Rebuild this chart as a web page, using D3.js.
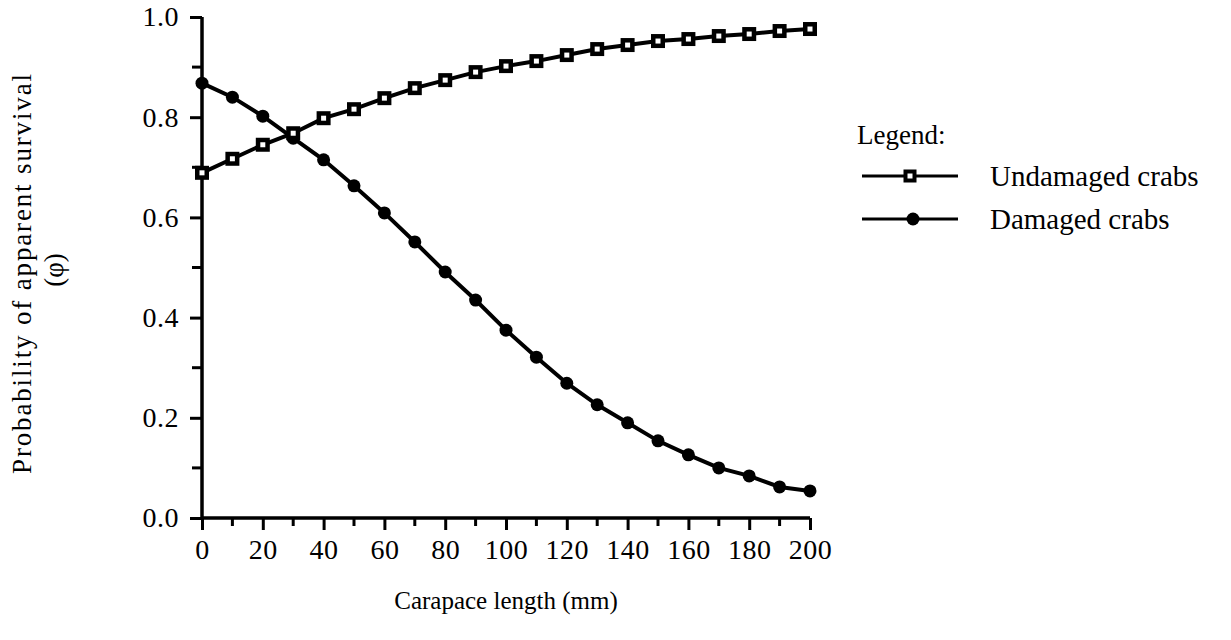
<!DOCTYPE html>
<html>
<head>
<meta charset="utf-8">
<script src="https://cdn.jsdelivr.net/npm/d3@7"></script>
<style>
  html, body { margin: 0; padding: 0; background: #fff; }
  svg { display: block; }
  text { font-family: "Liberation Serif", "DejaVu Serif", serif; fill: #000; }
</style>
</head>
<body>
<div id="chart"></div>
<script>
(function (d3) {
    'use strict';

    // data
    var lengths = [0, 10, 20, 30, 40, 50, 60, 70, 80, 90, 100,
                   110, 120, 130, 140, 150, 160, 170, 180, 190, 200];
    var undamaged = [0.689, 0.717, 0.745, 0.768, 0.798, 0.816, 0.838, 0.858, 0.874, 0.890, 0.902,
                     0.912, 0.924, 0.936, 0.944, 0.952, 0.956, 0.962, 0.966, 0.972, 0.976];
    var damaged = [0.868, 0.840, 0.802, 0.758, 0.715, 0.663, 0.609, 0.551, 0.491, 0.435, 0.375,
                   0.321, 0.269, 0.226, 0.190, 0.154, 0.126, 0.100, 0.084, 0.062, 0.054];
    var xTicks = [0, 20, 40, 60, 80, 100, 120, 140, 160, 180, 200];
    var yTicks = [0, 0.2, 0.4, 0.6, 0.8, 1.0];
    var seriesNames = ['Undamaged crabs', 'Damaged crabs'];

    var W = 1231, H = 640;
    var svg = d3.select('#chart').append('svg')
        .attr('width', W).attr('height', H);

    var x = d3.scaleLinear().domain([0, 200]).range([202, 810]);
    var y = d3.scaleLinear().domain([0, 1]).range([518, 17]);

    // minor ticks
    svg.append('g').selectAll('line')
        .data(d3.range(10, 200, 20))
        .enter().append('line')
        .attr('x1', function (d) { return x(d); })
        .attr('x2', function (d) { return x(d); })
        .attr('y1', 518).attr('y2', 526)
        .attr('stroke', '#000').attr('stroke-width', 3);
    svg.append('g').selectAll('line')
        .data([0.1, 0.3, 0.5, 0.7, 0.9])
        .enter().append('line')
        .attr('y1', function (d) { return y(d); })
        .attr('y2', function (d) { return y(d); })
        .attr('x1', 192).attr('x2', 202)
        .attr('stroke', '#000').attr('stroke-width', 3);

    var xAxis = svg.append('g')
        .attr('transform', 'translate(0,518)')
        .call(d3.axisBottom(x).tickValues(xTicks).tickSize(12).tickPadding(9)
              .tickFormat(d3.format('d')));
    var yAxis = svg.append('g')
        .attr('transform', 'translate(202,0)')
        .call(d3.axisLeft(y).tickValues(yTicks).tickSize(12).tickPadding(11)
              .tickFormat(d3.format('.1f')));

    [xAxis, yAxis].forEach(function (a) {
        a.select('.domain').attr('stroke', '#000').attr('stroke-width', 3.5);
        a.selectAll('.tick line').attr('stroke', '#000').attr('stroke-width', 3);
        a.selectAll('.tick text')
            .style('font-family', '"Liberation Serif", serif')
            .style('font-size', '28px')
            .style('letter-spacing', '0.5px')
            .attr('fill', '#000');
    });
    xAxis.select('.domain').attr('d', 'M' + x(0) + ',0H' + x(200));
    yAxis.select('.domain').attr('d', 'M0,' + y(0) + 'V' + y(1));

    // titles
    svg.append('text')
        .attr('x', 506).attr('y', 609)
        .attr('text-anchor', 'middle')
        .style('font-size', '25px')
        .text('Carapace length (mm)');
    svg.append('text')
        .attr('transform', 'translate(31,274) rotate(-90)')
        .attr('text-anchor', 'middle')
        .style('font-size', '27px')
        .attr('textLength', 400)
        .text('Probability of apparent survival');
    svg.append('text')
        .attr('transform', 'translate(63,270) rotate(-90)')
        .attr('text-anchor', 'middle')
        .style('font-size', '27px')
        .text('(\u03c6)');

    var line = d3.line()
        .x(function (d) { return x(d[0]); })
        .y(function (d) { return y(d[1]); });

    var undPts = d3.zip(lengths, undamaged);
    var damPts = d3.zip(lengths, damaged);

    svg.append('path').datum(damPts)
        .attr('d', line).attr('fill', 'none')
        .attr('stroke', '#000').attr('stroke-width', 4);
    svg.append('path').datum(undPts)
        .attr('d', line).attr('fill', 'none')
        .attr('stroke', '#000').attr('stroke-width', 4);

    function circles(g, pts) {
        g.selectAll('circle').data(pts).enter().append('circle')
            .attr('cx', function (d) { return x(d[0]); })
            .attr('cy', function (d) { return y(d[1]); })
            .attr('r', 6.5).attr('fill', '#000');
    }
    function squares(g, pts) {
        var s = g.selectAll('g').data(pts).enter().append('g')
            .attr('transform', function (d) {
                return 'translate(' + x(d[0]) + ',' + y(d[1]) + ')';
            });
        s.append('rect').attr('x', -7).attr('y', -7)
            .attr('width', 14).attr('height', 14).attr('fill', '#000');
        s.append('rect').attr('x', -2.5).attr('y', -2.5)
            .attr('width', 5).attr('height', 5).attr('fill', '#fff');
    }
    circles(svg.append('g'), damPts);
    squares(svg.append('g'), undPts);

    // legend
    var lg = svg.append('g');
    lg.append('text').attr('x', 857).attr('y', 144)
        .style('font-size', '27px').text('Legend:');
    [176, 219].forEach(function (ly, i) {
        lg.append('line').attr('x1', 862).attr('x2', 958)
            .attr('y1', ly).attr('y2', ly)
            .attr('stroke', '#000').attr('stroke-width', 3);
        lg.append('text').attr('x', 990).attr('y', ly + 10)
            .style('font-size', '29px').text(seriesNames[i]);
    });
    var ls = lg.append('g').attr('transform', 'translate(910,176)');
    ls.append('rect').attr('x', -6.5).attr('y', -6.5).attr('width', 13).attr('height', 13).attr('fill', '#000');
    ls.append('rect').attr('x', -2.5).attr('y', -2.5).attr('width', 5).attr('height', 5).attr('fill', '#fff');
    lg.append('circle').attr('cx', 913).attr('cy', 219).attr('r', 6.5).attr('fill', '#000');

}(window.d3));
</script>
</body>
</html>
